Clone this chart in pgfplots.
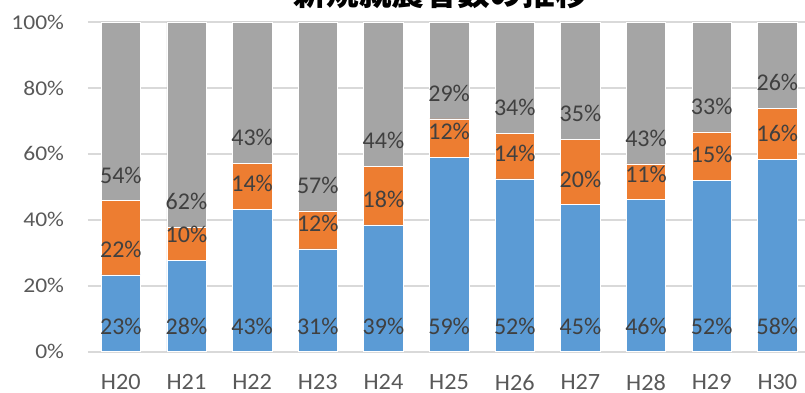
\documentclass[border=0pt]{standalone}
\usepackage{fontspec}
\setmainfont{Carlito}
\newfontfamily\ylabfont{Carlito}[FakeStretch=1.12]
\newfontfamily\xlabfont{Carlito}[FakeStretch=1.04]
\newfontfamily\cjk{Noto Sans CJK JP}
\usepackage{pgfplots}
\pgfplotsset{compat=1.18}
\definecolor{cblue}{HTML}{5B9BD5}
\definecolor{corange}{HTML}{ED7D31}
\definecolor{cgray}{HTML}{A5A5A5}
\definecolor{gridc}{HTML}{D9D9D9}
\definecolor{axtext}{HTML}{595959}
\definecolor{dltext}{HTML}{404040}
\pgfplotsset{
  common/.style={width=537.75pt, height=247.3pt, scale only axis,
    xmin=-0.5, xmax=10.421, ymin=0, ymax=100},
}
\begin{document}
\begin{tikzpicture}
\begin{axis}[common,
  ybar stacked, bar width=0.6,
  axis line style={draw=none},
  major tick length=0pt,
  ytick={0,20,40,60,80,100},
  yticklabels={0\%,20\%,40\%,60\%,80\%,100\%},
  yticklabel style={font=\ylabfont\fontsize{15.75}{18}\selectfont, text=axtext, anchor=east, inner sep=0pt, xshift=-17.8pt},
  xtick={0,1,2,3,4,5,6,7,8,9,10},
  xticklabels={H20,H21,H22,H23,H24,H25,H26,H27,H28,H29,H30},
  xticklabel style={font=\xlabfont\fontsize{17.5}{20}\selectfont, text=axtext, anchor=north, inner sep=0pt, yshift=-16.9pt},
  ymajorgrids,
  grid style={draw=gridc, line width=1.4pt},
]
\addplot[fill=cblue, draw=white, line width=0.4pt] coordinates {
  (0,23.3) (1,27.7) (2,43.2) (3,31.2) (4,38.5) (5,59.0) (6,52.4) (7,44.6) (8,46.1) (9,52.0) (10,58.4)};
\addplot[fill=corange, draw=white, line width=0.4pt] coordinates {
  (0,22.5) (1,10.1) (2,14.0) (3,11.5) (4,17.7) (5,11.6) (6,13.8) (7,19.9) (8,10.9) (9,14.7) (10,15.4)};
\addplot[fill=cgray, draw=white, line width=0.4pt] coordinates {
  (0,54.2) (1,62.2) (2,42.8) (3,57.3) (4,43.8) (5,29.4) (6,33.8) (7,35.5) (8,43.0) (9,33.3) (10,26.2)};
\end{axis}
\begin{axis}[common, hide axis, clip=false,
  every node near coord/.style={anchor=base, inner sep=0pt, font=\fontsize{18}{20}\selectfont, text=dltext}]
\addplot[only marks, mark=none, nodes near coords, point meta=explicit symbolic] coordinates {
  (0,5.3)[23\%] (1,5.3)[28\%] (2,5.3)[43\%] (3,5.3)[31\%] (4,5.3)[39\%] (5,5.3)[59\%]
  (6,5.3)[52\%] (7,5.3)[45\%] (8,5.3)[46\%] (9,5.3)[52\%] (10,5.3)[58\%]};
\addplot[only marks, mark=none, nodes near coords, point meta=explicit symbolic] coordinates {
  (0,28.6)[22\%] (1,33.0)[10\%] (2,48.5)[14\%] (3,36.5)[12\%] (4,43.8)[18\%] (5,64.3)[12\%]
  (6,57.7)[14\%] (7,49.9)[20\%] (8,51.4)[11\%] (9,57.3)[15\%] (10,63.7)[16\%]};
\addplot[only marks, mark=none, nodes near coords, point meta=explicit symbolic] coordinates {
  (0,51.1)[54\%] (1,43.1)[62\%] (2,62.5)[43\%] (3,48.0)[57\%] (4,61.5)[44\%] (5,75.9)[29\%]
  (6,71.5)[34\%] (7,69.8)[35\%] (8,62.3)[43\%] (9,72.0)[33\%] (10,79.1)[26\%]};
\end{axis}
\node[anchor=base, font=\cjk\bfseries\fontsize{24.5}{28}\selectfont] at (264.7pt,259.3pt) {新規就農者数の推移};
\pgfresetboundingbox
\path[use as bounding box] (-66pt,-30.2pt) rectangle (537.75pt,263.8pt);
\end{tikzpicture}
\end{document}
